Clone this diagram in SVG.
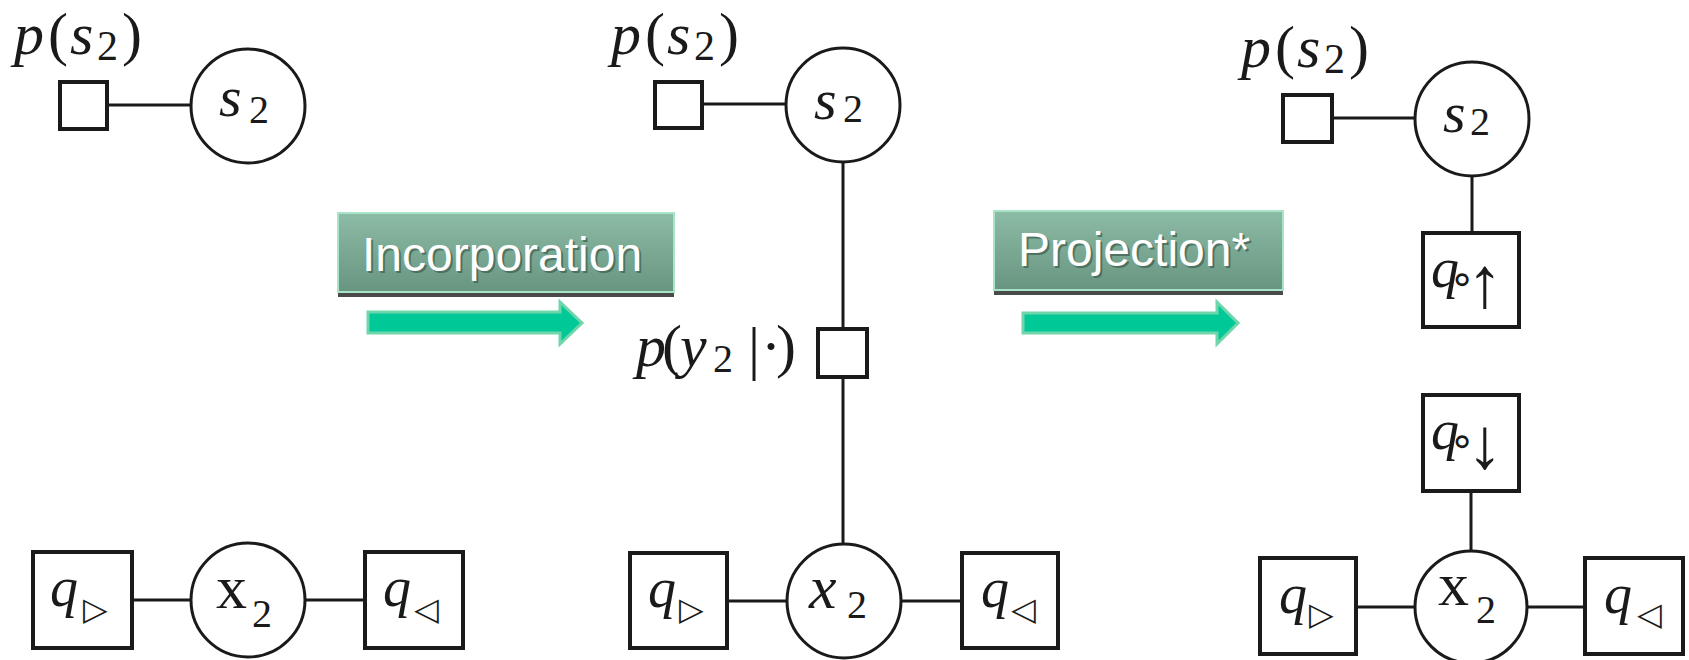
<svg xmlns="http://www.w3.org/2000/svg" width="1689" height="660" viewBox="0 0 1689 660">
<style>
.bg{fill:#ffffff}
.sq{fill:#ffffff;stroke:#1a1a1a;stroke-width:4}
.ci{fill:#ffffff;stroke:#1a1a1a;stroke-width:3}
.ln{stroke:#1a1a1a;stroke-width:3;fill:none}
.m{font-family:"Liberation Serif","Times New Roman",serif;font-style:italic;fill:#1a1a1a}
.r{font-family:"Liberation Serif","Times New Roman",serif;fill:#1a1a1a}
.sym{font-family:"DejaVu Sans",sans-serif;fill:#1a1a1a}
.btn{fill:url(#g);stroke:#a8e4c8;stroke-width:2}
.sh{fill:#4a4a4a}
.bt{font-family:"Liberation Sans",Arial,sans-serif;font-size:48px;fill:#ffffff}
.bts{font-family:"Liberation Sans",Arial,sans-serif;font-size:48px;fill:#3d5e50;opacity:0.7}
.arr{fill:#00c896;stroke:#6fd6ac;stroke-width:3}
</style>
<defs>
<linearGradient id="g" x1="0" y1="0" x2="0" y2="1">
<stop offset="0" stop-color="#8cbba6"/>
<stop offset="1" stop-color="#689580"/>
</linearGradient>
</defs>
<rect class="bg" x="0" y="0" width="1689" height="660"/>

<g id="connectors">
<line class="ln" x1="107" y1="105" x2="191" y2="105"/>
<line class="ln" x1="132" y1="600" x2="191" y2="600"/>
<line class="ln" x1="305" y1="600" x2="365" y2="600"/>
<line class="ln" x1="702" y1="104" x2="786" y2="104"/>
<line class="ln" x1="843" y1="162" x2="843" y2="329"/>
<line class="ln" x1="843" y1="377" x2="843" y2="544"/>
<line class="ln" x1="727" y1="601" x2="787" y2="601"/>
<line class="ln" x1="901" y1="601" x2="962" y2="601"/>
<line class="ln" x1="1332" y1="118" x2="1415" y2="118"/>
<line class="ln" x1="1472" y1="176" x2="1472" y2="233"/>
<line class="ln" x1="1471" y1="491" x2="1471" y2="551"/>
<line class="ln" x1="1356" y1="607" x2="1415" y2="607"/>
<line class="ln" x1="1527" y1="607" x2="1585" y2="607"/>
</g>

<!-- Panel 1 -->
<g id="p1-prior">
<rect class="sq" x="60" y="82" width="47" height="47"/>
<text font-size="60"><tspan class="m" x="14" y="54">p</tspan><tspan class="r" x="48" y="54">(</tspan><tspan class="m" x="70" y="54">s</tspan><tspan class="r" x="97" y="60" font-size="42">2</tspan><tspan class="r" x="122" y="54">)</tspan></text>
</g>
<g id="p1-s2">
<circle class="ci" cx="248" cy="106" r="57"/>
<text><tspan class="m" x="219" y="116" font-size="58">s</tspan><tspan class="r" x="249" y="123" font-size="40">2</tspan></text>
</g>
<g id="p1-qr">
<rect class="sq" x="33" y="552" width="99" height="96"/>
<text><tspan class="m" x="50" y="606" font-size="56">q</tspan><tspan class="sym" x="83" y="620" font-size="32">▷</tspan></text>
</g>
<g id="p1-x2">
<circle class="ci" cx="248" cy="600" r="57"/>
<text><tspan class="r" x="216" y="608" font-size="62">x</tspan><tspan class="r" x="252" y="627" font-size="40">2</tspan></text>
</g>
<g id="p1-ql">
<rect class="sq" x="365" y="552" width="98" height="96"/>
<text><tspan class="m" x="383" y="606" font-size="56">q</tspan><tspan class="sym" x="414" y="620" font-size="32">◁</tspan></text>
</g>

<!-- Arrow 1 -->
<g id="incorporation">
<rect class="sh" x="338" y="290" width="336" height="7"/>
<rect class="btn" x="338" y="213" width="336" height="79"/>
<text class="bts" x="364" y="273">Incorporation</text>
<text class="bt" x="362" y="271">Incorporation</text>
<polygon class="arr" points="368,312 560,312 560,302 582,323 560,344 560,333 368,333"/>
</g>

<!-- Panel 2 -->
<g id="p2-prior">
<rect class="sq" x="655" y="82" width="47" height="46"/>
<text font-size="60"><tspan class="m" x="611" y="54">p</tspan><tspan class="r" x="645" y="54">(</tspan><tspan class="m" x="667" y="54">s</tspan><tspan class="r" x="694" y="60" font-size="42">2</tspan><tspan class="r" x="719" y="54">)</tspan></text>
</g>
<g id="p2-s2">
<circle class="ci" cx="843" cy="105" r="57"/>
<text><tspan class="m" x="814" y="119" font-size="58">s</tspan><tspan class="r" x="843" y="122" font-size="40">2</tspan></text>
</g>
<g id="p2-lik">
<rect class="sq" x="818" y="329" width="49" height="48"/>
<text font-size="60"><tspan class="m" x="636" y="366">p</tspan><tspan class="r" x="662" y="366">(</tspan><tspan class="m" x="680" y="366">y</tspan><tspan class="r" x="713" y="372" font-size="40">2</tspan><tspan class="r" x="748" y="368">|</tspan><tspan class="r" x="761" y="366">·</tspan><tspan class="r" x="776" y="366">)</tspan></text>
</g>
<g id="p2-qr">
<rect class="sq" x="630" y="553" width="97" height="95"/>
<text><tspan class="m" x="648" y="607" font-size="56">q</tspan><tspan class="sym" x="679" y="620" font-size="32">▷</tspan></text>
</g>
<g id="p2-x2">
<circle class="ci" cx="844" cy="601" r="57"/>
<text><tspan class="m" x="809" y="608" font-size="62">x</tspan><tspan class="r" x="847" y="618" font-size="40">2</tspan></text>
</g>
<g id="p2-ql">
<rect class="sq" x="962" y="553" width="96" height="95"/>
<text><tspan class="m" x="981" y="607" font-size="56">q</tspan><tspan class="sym" x="1011" y="620" font-size="32">◁</tspan></text>
</g>

<!-- Arrow 2 -->
<g id="projection">
<rect class="sh" x="994" y="288" width="289" height="7"/>
<rect class="btn" x="994" y="211" width="289" height="79"/>
<text class="bts" x="1020" y="268">Projection*</text>
<text class="bt" x="1018" y="266">Projection*</text>
<polygon class="arr" points="1023,313 1217,313 1217,302 1238,323 1217,344 1217,333 1023,333"/>
</g>

<!-- Panel 3 -->
<g id="p3-prior">
<rect class="sq" x="1283" y="95" width="49" height="47"/>
<text font-size="60"><tspan class="m" x="1241" y="67">p</tspan><tspan class="r" x="1275" y="67">(</tspan><tspan class="m" x="1297" y="67">s</tspan><tspan class="r" x="1324" y="73" font-size="42">2</tspan><tspan class="r" x="1349" y="67">)</tspan></text>
</g>
<g id="p3-s2">
<circle class="ci" cx="1472" cy="119" r="57"/>
<text><tspan class="m" x="1443" y="132" font-size="58">s</tspan><tspan class="r" x="1470" y="135" font-size="40">2</tspan></text>
</g>
<g id="p3-qup">
<rect class="sq" x="1423" y="233" width="96" height="94"/>
<text><tspan class="m" x="1431" y="287" font-size="56">q</tspan><tspan class="sym" x="1449" y="293" font-size="42">∘</tspan><tspan class="r" x="1467" y="307" font-size="72">↑</tspan></text>
</g>
<g id="p3-qdown">
<rect class="sq" x="1423" y="395" width="96" height="96"/>
<text><tspan class="m" x="1431" y="449" font-size="56">q</tspan><tspan class="sym" x="1449" y="455" font-size="42">∘</tspan><tspan class="r" x="1467" y="468" font-size="72">↓</tspan></text>
</g>
<g id="p3-qr">
<rect class="sq" x="1260" y="558" width="96" height="96"/>
<text><tspan class="m" x="1279" y="613" font-size="56">q</tspan><tspan class="sym" x="1309" y="625" font-size="32">▷</tspan></text>
</g>
<g id="p3-x2">
<circle class="ci" cx="1471" cy="607" r="56"/>
<text><tspan class="r" x="1438" y="605" font-size="62">x</tspan><tspan class="r" x="1476" y="623" font-size="40">2</tspan></text>
</g>
<g id="p3-ql">
<rect class="sq" x="1585" y="558" width="98" height="96"/>
<text><tspan class="m" x="1604" y="613" font-size="56">q</tspan><tspan class="sym" x="1637" y="625" font-size="32">◁</tspan></text>
</g>
</svg>
